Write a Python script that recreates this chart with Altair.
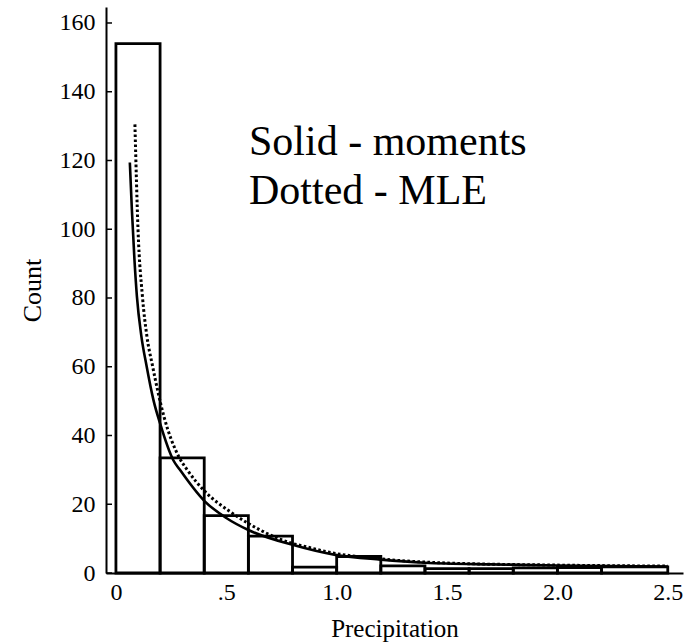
import altair as alt
import pandas as pd

# Histogram bins (precipitation) and counts
bin_start = [0.0, 0.2, 0.4, 0.6, 0.8, 1.0, 1.2, 1.4, 1.6, 1.8, 2.0, 2.2]
bin_end   = [0.2, 0.4, 0.6, 0.8, 1.0, 1.2, 1.4, 1.6, 1.8, 2.0, 2.2, 2.5]
counts    = [154, 33.5, 16.7, 10.7, 1.7, 4.8, 2.1, 1.3, 1.3, 1.5, 1.6, 1.8]

# Fitted curve: solid (moments)
solid_x = [0.063, 0.072, 0.084, 0.095, 0.115, 0.138, 0.17, 0.2, 0.26, 0.29, 0.4, 0.5, 0.6, 0.8, 1.0, 1.2, 1.4, 1.7, 2.0, 2.5]
solid_y = [119.4, 106, 91, 80.5, 69, 60.5, 50.3, 43.5, 32.8, 30, 21, 16, 12.5, 8.2, 5.2, 3.9, 3.0, 2.5, 2.2, 1.9]

# Dotted (MLE)
dot_x = [0.086, 0.1, 0.12, 0.14, 0.165, 0.218, 0.285, 0.323, 0.405, 0.518, 0.6, 0.8, 0.864, 0.953, 1.2, 1.5, 2.0, 2.5]
dot_y = [130.5, 100, 80.5, 69, 60.5, 45.4, 33.8, 30, 23.6, 17.8, 14.4, 8.6, 7.6, 6.2, 4.1, 2.9, 2.3, 2.0]

y_ticks = [0, 20, 40, 60, 80, 100, 120, 140, 160]
x_ticks = [0, 0.5, 1.0, 1.5, 2.0, 2.5]

FONT = "Liberation Serif"

bars_df = pd.DataFrame({"x0": bin_start, "x1": bin_end, "count": counts})
solid_df = pd.DataFrame({"x": solid_x, "y": solid_y})
dot_df = pd.DataFrame({"x": dot_x, "y": dot_y})
tick_df = pd.DataFrame({"v": y_ticks})
notes_df = pd.DataFrame({"t": ["Solid - moments", "Dotted - MLE"], "row": [0, 1]})

xscale = alt.Scale(domain=[-0.045, 2.569], nice=False, zero=False)
yscale = alt.Scale(domain=[0, 164.65], nice=False, zero=False)

xaxis = alt.Axis(
    values=x_ticks,
    labelExpr="datum.value == 0 ? '0' : (datum.value == 0.5 ? '.5' : format(datum.value, '.1f'))",
    ticks=False, tickSize=0, grid=False,
    domainColor="black", domainWidth=2,
    labelFont=FONT, labelFontSize=24, labelColor="black", labelPadding=7,
    labelOverlap=False, labelFlush=False, labelBound=False,
    title="Precipitation", titleFont=FONT, titleFontSize=25, titleFontWeight="normal",
    titleColor="black", titlePadding=12,
)
yaxis = alt.Axis(
    values=y_ticks,
    ticks=False, tickSize=0, grid=False,
    domainColor="black", domainWidth=2,
    labelFont=FONT, labelFontSize=24, labelColor="black", labelPadding=11,
    labelOverlap=False,
    title="Count", titleFont=FONT, titleFontSize=26, titleFontWeight="normal",
    titleColor="black", titlePadding=14,
)

bars = alt.Chart(bars_df).mark_rect(
    fill="white", fillOpacity=0, stroke="black", strokeWidth=2.8
).encode(
    x=alt.X("x0:Q", scale=xscale, axis=xaxis),
    x2="x1:Q",
    y=alt.Y("count:Q", scale=yscale, axis=yaxis),
    y2=alt.datum(0),
)

solid = alt.Chart(solid_df).mark_line(
    color="black", strokeWidth=2.6, interpolate="monotone"
).encode(x=alt.X("x:Q", scale=xscale), y=alt.Y("y:Q", scale=yscale))

dotted = alt.Chart(dot_df).mark_line(
    color="black", strokeWidth=3, strokeDash=[2.6, 2.4], interpolate="monotone"
).encode(x=alt.X("x:Q", scale=xscale), y=alt.Y("y:Q", scale=yscale))

yticks = alt.Chart(tick_df).mark_rule(color="black", strokeWidth=1.5).encode(
    y=alt.Y("v:Q", scale=yscale),
    x=alt.value(0),
    x2=alt.value(6),
)

txt1 = alt.Chart(notes_df).transform_filter("datum.row == 0").mark_text(
    font=FONT, fontSize=42, align="left", baseline="alphabetic", color="black"
).encode(text="t:N", x=alt.value(143), y=alt.value(148))

txt2 = alt.Chart(notes_df).transform_filter("datum.row == 1").mark_text(
    font=FONT, fontSize=42, align="left", baseline="alphabetic", color="black"
).encode(text="t:N", x=alt.value(143), y=alt.value(197))

chart = alt.layer(bars, solid, dotted, yticks, txt1, txt2).properties(
    width=577, height=566,
    autosize=alt.AutoSizeParams(type="none"),
    padding={"left": 106, "top": 7, "right": 2, "bottom": 71},
    background="white",
).configure(font=FONT).configure_text(font=FONT).configure_view(stroke=None)

chart.save("out.html", embed_options={"renderer": "svg", "actions": False})
